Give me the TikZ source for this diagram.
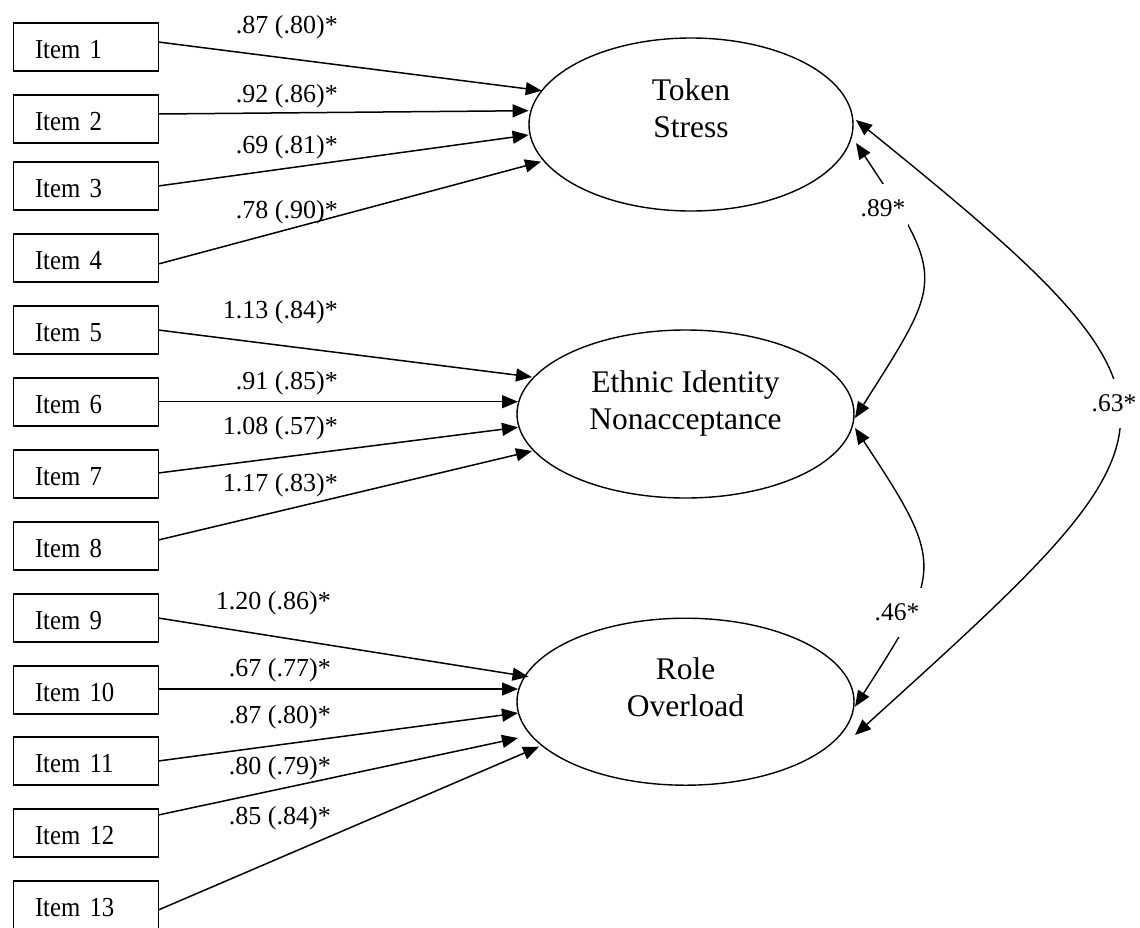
\documentclass[tikz,border=0pt]{standalone}
\usepackage{fontspec}
\setmainfont{Liberation Serif}
\newfontfamily\condserif{Liberation Serif}[FakeStretch=0.9]
\usetikzlibrary{arrows.meta,calc,shapes.geometric}
\begin{document}
\begin{tikzpicture}[x=1pt,y=-1pt,
  itembox/.style={draw, line width=1.4pt, rectangle, minimum width=145pt, minimum height=48pt,
    inner xsep=21.7pt, inner ysep=0pt, text width=101.6pt, align=left,
    text height=22.6pt, text depth=0pt, outer sep=0pt, font=\condserif\fontsize{27.5}{32}\selectfont},
  lat/.style={draw, ellipse, line width=1.4pt, inner sep=0pt, outer sep=0pt},
  lattext/.style={align=center, font=\fontsize{31.5}{37}\selectfont, inner sep=0pt},
  elab/.style={font=\fontsize{26}{30}\selectfont, inner sep=0pt, anchor=base east},
  clab/.style={font=\fontsize{25.5}{30}\selectfont, fill=white, inner xsep=3pt, inner ysep=16pt,
    text height=17pt, text depth=0pt},
  arr/.style={line width=1.5pt, -{Triangle[length=16pt,width=13pt]}},
  carr/.style={line width=1.4pt, {Triangle[length=16pt,width=13pt]}-{Triangle[length=16pt,width=13pt]}}
]
\useasboundingbox (0,0) rectangle (1140,927);

% observed items
\node[itembox] (i1) at (85.8,47) {Item 1};
\node[itembox] (i2) at (85.8,119) {Item 2};
\node[itembox] (i3) at (85.8,186) {Item 3};
\node[itembox] (i4) at (85.8,258) {Item 4};
\node[itembox] (i5) at (85.8,330) {Item 5};
\node[itembox] (i6) at (85.8,402) {Item 6};
\node[itembox] (i7) at (85.8,474) {Item 7};
\node[itembox] (i8) at (85.8,546) {Item 8};
\node[itembox] (i9) at (85.8,618) {Item 9};
\node[itembox] (i10) at (85.8,690) {Item 10};
\node[itembox] (i11) at (85.8,761) {Item 11};
\node[itembox] (i12) at (85.8,833) {Item 12};
\node[itembox] (i13) at (85.8,905) {Item 13};

% latent factors
\node[lat, minimum width=324pt, minimum height=173pt] (ts) at (691,124.5) {};
\node[lat, minimum width=337pt, minimum height=168pt] (ei) at (685.5,414) {};
\node[lat, minimum width=337pt, minimum height=167pt] (ro) at (685.5,701.7) {};
\node[lattext] (tst) at (691,108) {Token\\Stress};
\node[lattext] (eit) at (685.5,403) {Ethnic Identity\\Nonacceptance};
\node[lattext] (rot) at (685.5,687) {Role\\Overload};

% loadings
\draw[arr] ([yshift=5pt]i1.east) -- ($(ts.center)+(-149.3,-33.8)$);
\draw[arr] ([yshift=5pt]i2.east) -- ($(ts.center)+(-162.4,-13.8)$);
\draw[arr] (i3.east) -- ($(ts.center)+(-162.4,10.5)$);
\draw[arr] ([yshift=-6pt]i4.east) -- ($(ts.center)+(-150,37.2)$);
\draw[arr] (i5.east) -- ($(ei.center)+(-153.5,-37)$);
\draw[arr] ([yshift=0.3pt]i6.east) -- ($(ei.center)+(-167.5,-12.3)$);
\draw[arr] ([yshift=1pt]i7.east) -- ($(ei.center)+(-167.5,13.3)$);
\draw[arr] ([yshift=6pt]i8.east) -- ($(ei.center)+(-153.5,37)$);
\draw[arr] (i9.east) -- ($(ro.center)+(-157,-25)$);
\draw[arr] ([yshift=1pt]i10.east) -- ($(ro.center)+(-167.5,-12.7)$);
\draw[arr] (i11.east) -- ($(ro.center)+(-167.5,11.3)$);
\draw[arr] ([yshift=18pt]i12.east) -- ($(ro.center)+(-167.5,36.3)$);
\draw[arr] ([yshift=-5pt]i13.east) -- ($(ro.center)+(-146.5,45)$);

% loading labels
\node[elab] (l1) at (338,33) {.87 (.80)*};
\node[elab] (l2) at (338,102) {.92 (.86)*};
\node[elab] (l3) at (338,153) {.69 (.81)*};
\node[elab] (l4) at (338,218) {.78 (.90)*};
\node[elab] (l5) at (338,318) {1.13 (.84)*};
\node[elab] (l6) at (338,389) {.91 (.85)*};
\node[elab] (l7) at (338,434) {1.08 (.57)*};
\node[elab] (l8) at (338,491) {1.17 (.83)*};
\node[elab] (l9) at (331,609) {1.20 (.86)*};
\node[elab] (l10) at (331,676) {.67 (.77)*};
\node[elab] (l11) at (331,723) {.87 (.80)*};
\node[elab] (l12) at (331,774) {.80 (.79)*};
\node[elab] (l13) at (331,824) {.85 (.84)*};

% correlations
\draw[carr] ($(ts.center)+(165,18.5)$) .. controls (947,280) and (943,279) .. ($(ei.center)+(169.5,4)$);
\draw[carr] ($(ei.center)+(169.5,14)$) .. controls (945,564) and (943,570) .. ($(ro.center)+(169.5,5)$);
\draw[carr] ($(ts.center)+(165,-4.5)$) .. controls (1215,410) and (1195,427) .. ($(ro.center)+(169.5,33.3)$);
\node[clab] (c89) at (883,208) {.89*};
\node[clab] (c46) at (897,612) {.46*};
\node[clab] (c63) at (1114,403) {.63*};
\end{tikzpicture}
\end{document}
